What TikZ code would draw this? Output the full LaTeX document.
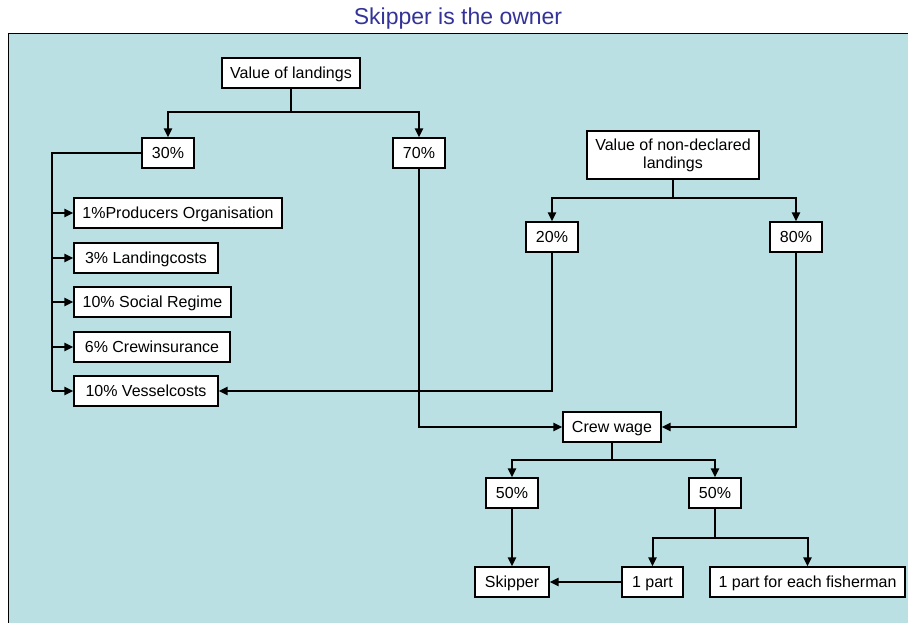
\documentclass[tikz,border=0pt]{standalone}
\usepackage{fontspec}
\setmainfont{Liberation Sans}
\usetikzlibrary{arrows.meta}
\definecolor{bgc}{RGB}{187,224,227}
\definecolor{titc}{RGB}{51,51,153}
\begin{document}
\begin{tikzpicture}[x=1pt,y=-1pt,
  box/.style={draw=black, line width=1.2pt, fill=white, inner sep=0pt, font=\fontsize{16}{18}\selectfont, align=center},
  one/.style={text height=11.5pt, text depth=-1.5pt},
  conn/.style={line width=2pt, -{Triangle[length=9pt,width=8pt]}},
  wire/.style={line width=2pt}]
\useasboundingbox (0,0) rectangle (908,623);
\fill[bgc] (8,34) rectangle (912,627);
\draw[line width=1pt] (912,34) -- (8,34) -- (8,627);
\node[font=\fontsize{23}{26}\selectfont, text=titc] (title) at (458,19) {Skipper is the owner};

\node[box, one, minimum width=138pt, minimum height=30pt] (vl) at (291,73) {Value of landings};
\node[box, one, minimum width=52pt, minimum height=30pt] (p30) at (168,153) {30\%};
\node[box, one, minimum width=52pt, minimum height=30pt] (p70) at (419,153) {70\%};
\node[box, one, minimum width=208pt, minimum height=30pt] (po) at (178,213) {1\%Producers Organisation};
\node[box, one, minimum width=144pt, minimum height=30pt] (lc) at (146,258) {3\% Landingcosts};
\node[box, one, minimum width=157pt, minimum height=30pt] (sr) at (152.5,302) {10\% Social Regime};
\node[box, one, minimum width=156pt, minimum height=30pt] (ci) at (152,347) {6\% Crewinsurance};
\node[box, one, minimum width=144pt, minimum height=30pt] (vc) at (146,391) {10\% Vesselcosts};
\node[box, minimum width=172pt, minimum height=48pt] (nd) at (673,155) {Value of non-declared\\landings};
\node[box, one, minimum width=52pt, minimum height=30pt] (p20) at (552,237) {20\%};
\node[box, one, minimum width=52pt, minimum height=30pt] (p80) at (796,237) {80\%};
\node[box, one, minimum width=98pt, minimum height=30pt] (cw) at (612,427) {Crew wage};
\node[box, one, minimum width=52pt, minimum height=30pt] (h1) at (512,493) {50\%};
\node[box, one, minimum width=52pt, minimum height=30pt] (h2) at (715,493) {50\%};
\node[box, one, minimum width=74pt, minimum height=30pt] (sk) at (512,582) {Skipper};
\node[box, one, minimum width=61pt, minimum height=30pt] (op) at (652.5,582) {1 part};
\node[box, one, minimum width=195pt, minimum height=30pt] (ef) at (807.5,582) {1 part for each fisherman};

\coordinate (j1) at (291,112);
\draw[wire] (vl) -- (j1);
\draw[conn] (j1) -| (p30);
\draw[conn] (j1) -| (p70);

\coordinate (bus) at (52,391);
\coordinate (b1) at (52,213);
\coordinate (b2) at (52,258);
\coordinate (b3) at (52,302);
\coordinate (b4) at (52,347);
\draw[wire] (p30.west) -| (bus);
\draw[conn] (b1) -- (po);
\draw[conn] (b2) -- (lc);
\draw[conn] (b3) -- (sr);
\draw[conn] (b4) -- (ci);
\draw[conn] (bus) -- (vc);

\coordinate (j2) at (673,198);
\draw[wire] (nd) -- (j2);
\draw[conn] (j2) -| (p20);
\draw[conn] (j2) -| (p80);

\draw[conn] (p20.south) |- (vc.east);
\draw[conn] (p70.south) |- (cw.west);
\draw[conn] (p80.south) |- (cw.east);

\coordinate (j3) at (612,460);
\draw[wire] (cw) -- (j3);
\draw[conn] (j3) -| (h1);
\draw[conn] (j3) -| (h2);

\draw[conn] (h1) -- (sk);
\coordinate (j4) at (715,538);
\draw[wire] (h2) -- (j4);
\draw[conn] (j4) -| (op);
\draw[conn] (j4) -| (ef);
\draw[conn] (op) -- (sk);
\end{tikzpicture}
\end{document}
